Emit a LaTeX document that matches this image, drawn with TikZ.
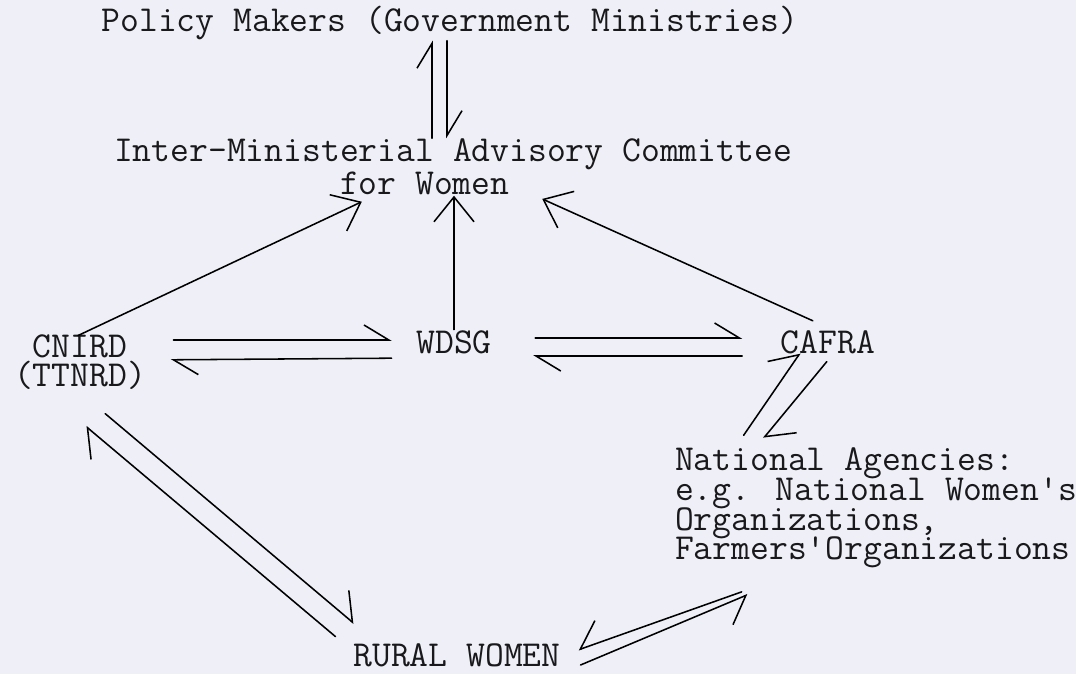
\documentclass[tikz,border=0pt]{standalone}
\usepackage{tikz}
\usetikzlibrary{arrows.meta}

\definecolor{paper}{RGB}{239,240,247}
\definecolor{ink}{RGB}{25,25,28}

\newcommand{\typed}{\ttfamily\fontsize{26}{21}\selectfont\setlength{\lineskiplimit}{-50pt}}

\tikzset{
  word/.style = {font = \typed, inner sep = 0pt, text = ink},
  one way/.style = {-{Straight Barb[length = 0.62cm, width = 1cm]}},
  flat pair/.style = {-{Straight Barb[harpoon, length = 0.62cm, width = 0.75cm]}},
  steep pair/.style = {-{Straight Barb[harpoon, length = 0.58cm, width = 1.1cm]}},
  steep swap/.style = {-{Straight Barb[harpoon, swap, length = 0.58cm, width = 1.1cm]}}
}

\begin{document}
\begin{tikzpicture}[x = 0.025cm, y = -0.025cm, line width = 1.1pt, line cap = round, line join = round]

\fill[paper] (0, 0) rectangle (1076, 674);
\useasboundingbox (0, 0) rectangle (1076, 674);

% the groups
\node[word] (policy) at (450, 23) {Policy Makers (Government Ministries)};
\node[word, align = left] (imac) at (453, 167)
  {Inter-Ministerial Advisory Committee\\[2.3pt]\phantom{Inter-Minist}for Women};
\node[word, align = center] (cnird) at (80, 362) {CNIRD\\(TTNRD)};
\node[word] (wdsg) at (454, 342) {WDSG};
\node[word] (cafra) at (828, 342) {CAFRA};
\node[word, align = left] (nat) at (876, 508)
  {National Agencies:\\e.g. National Women's\\Organizations,\\Farmers'Organizations};
\node[word] (rural) at (457, 655) {RURAL WOMEN};

% policy makers and the committee
\draw[flat pair] ([xshift = -0.525cm]imac.north) -- ([xshift = -0.45cm]policy.south);
\draw[flat pair] ([xshift = -0.075cm]policy.south) -- ([xshift = -0.15cm]imac.north);

% into the committee
\draw[one way] ([xshift = -0.05cm, yshift = -0.05cm]cnird.north) -- ([xshift = -2.28cm, yshift = -0.15cm]imac.south);
\draw[one way] (wdsg.north) -- (wdsg.north |- imac.south);
\draw[one way] ([xshift = -0.38cm, yshift = 0.22cm]cafra.north) -- ([xshift = 2.23cm, yshift = -0.08cm]imac.south);

% across the middle row
\draw[flat pair, shorten < = 0.67cm, shorten > = 0.6cm] ([yshift = 0.55cm]cnird.east) -- ([yshift = 0.05cm]wdsg.west);
\draw[flat pair, shorten < = 0.6cm, shorten > = 0.6cm] ([yshift = -0.4cm]wdsg.west) -- ([yshift = 0.05cm]cnird.east);
\draw[flat pair, shorten < = 1.07cm, shorten > = 0.95cm] ([yshift = 0.1cm]wdsg.east) -- ([yshift = 0.1cm]cafra.west);
\draw[flat pair, shorten < = 0.95cm, shorten > = 1.02cm] ([yshift = -0.35cm]cafra.west) -- ([yshift = -0.35cm]wdsg.east);

% CAFRA and the national agencies
\draw[steep pair] ([xshift = 1.73cm, yshift = 0.3cm]nat.north west) -- ([xshift = -0.7cm, yshift = 0.03cm]cafra.south);
\draw[steep pair] ([xshift = -0.03cm, yshift = -0.18cm]cafra.south) -- ([xshift = 2.23cm, yshift = 0.23cm]nat.north west);

% down to rural women
\draw[steep swap] ([xshift = 1.68cm, yshift = -0.58cm]nat.south west) -- ([xshift = 0.43cm, yshift = 0.13cm]rural.east);
\draw[steep swap] ([xshift = 0.48cm, yshift = -0.25cm]rural.east) -- ([xshift = 1.83cm, yshift = -0.65cm]nat.south west);
\draw[steep pair] ([xshift = 0.63cm, yshift = -0.58cm]cnird.south) -- ([xshift = 0.03cm, yshift = 0.48cm]rural.north west);
\draw[steep pair] ([xshift = -0.43cm, yshift = 0.15cm]rural.north west) -- ([xshift = 0.15cm, yshift = -0.9cm]cnird.south);

\end{tikzpicture}
\end{document}
